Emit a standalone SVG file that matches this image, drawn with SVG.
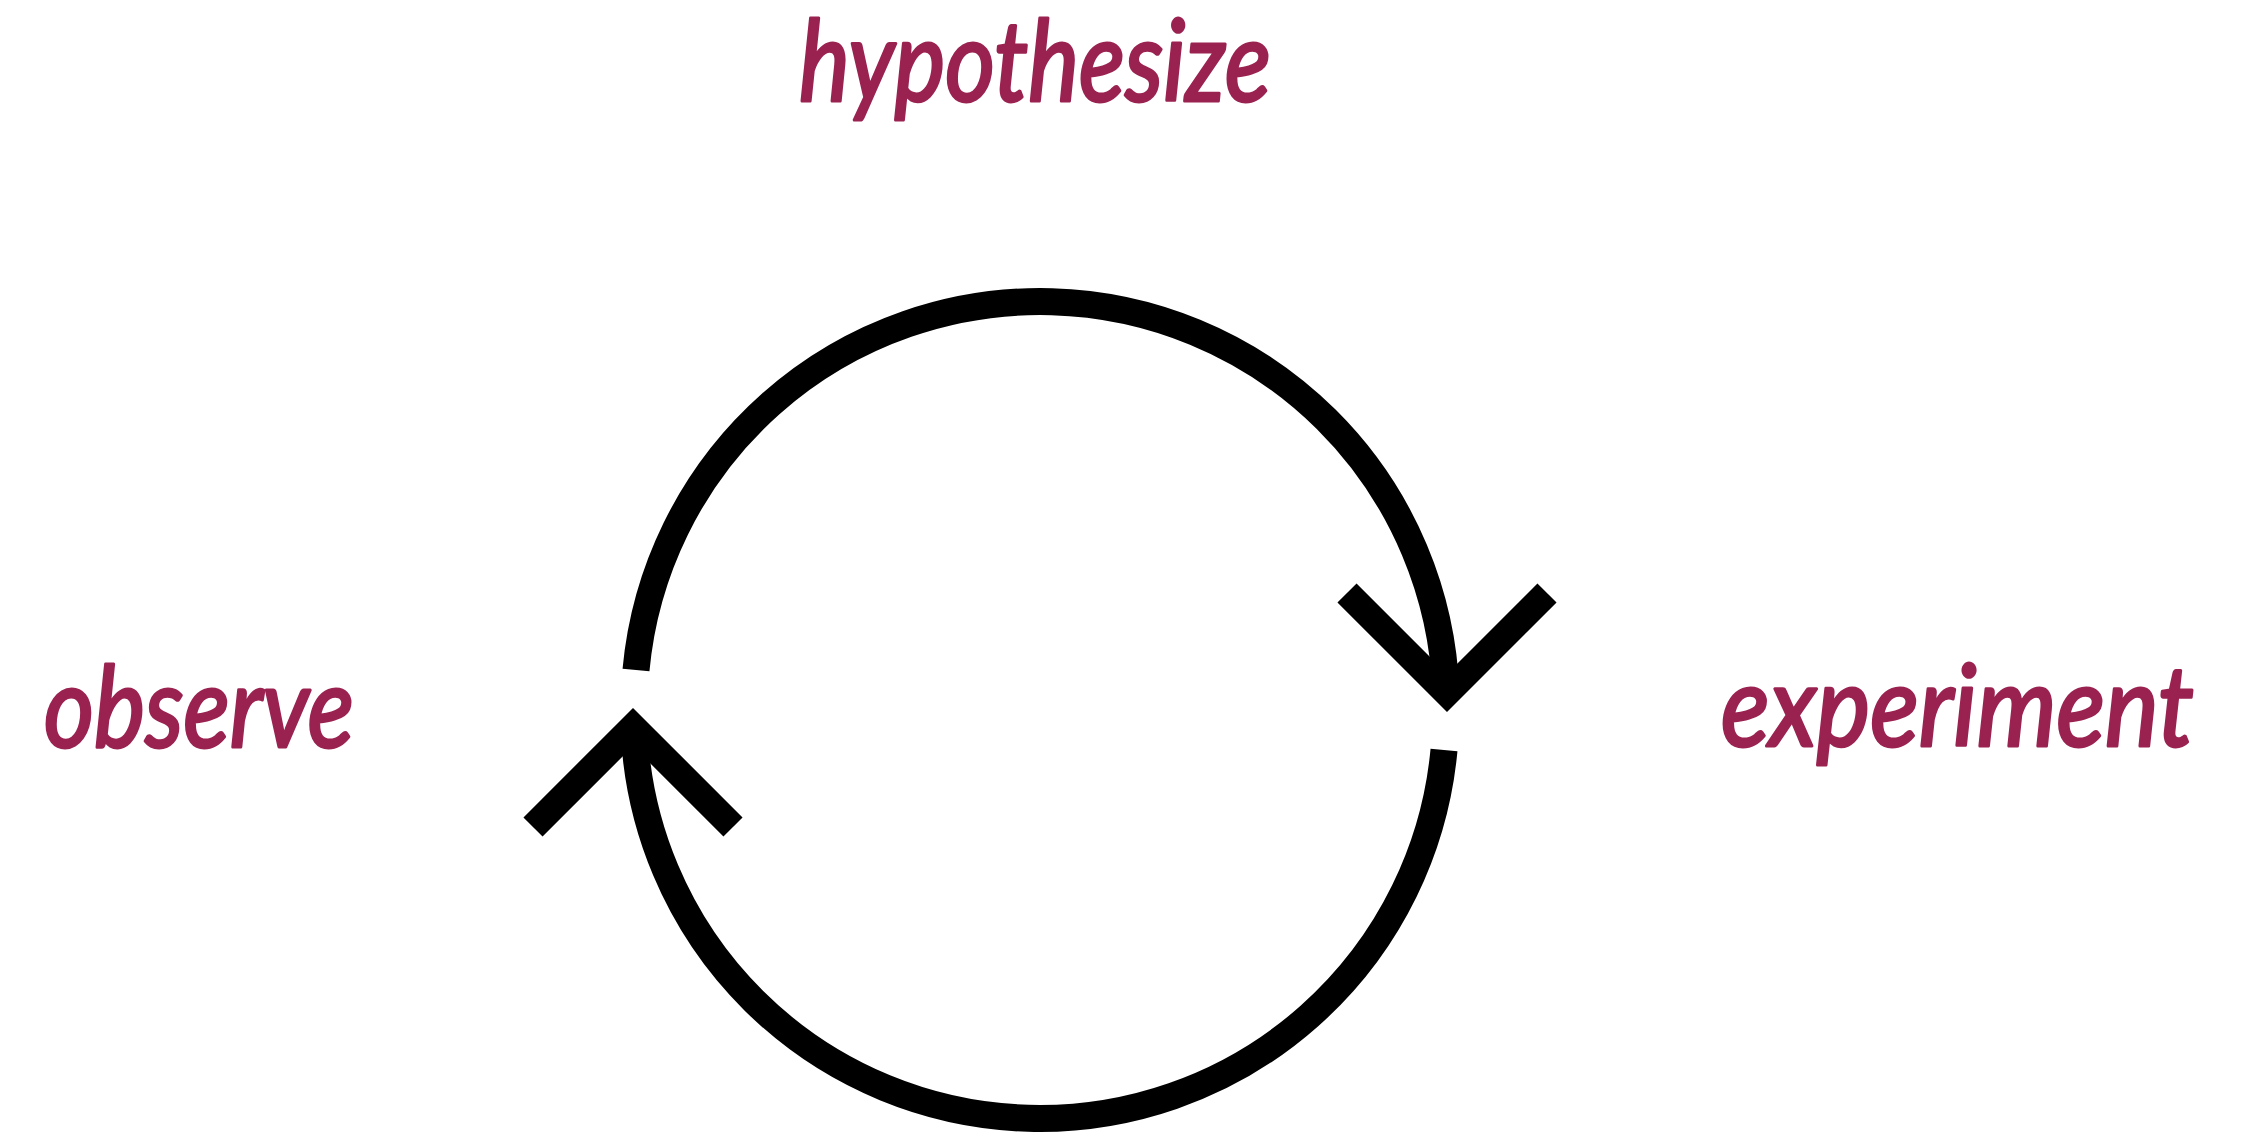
<svg xmlns="http://www.w3.org/2000/svg" width="2243" height="1132" viewBox="0 0 2243 1132">
<style>
.lbl{font-family:Lato,"Open Sans","Liberation Sans",sans-serif;font-style:italic;font-size:112px;fill:#9a2250;stroke:#9a2250;stroke-width:3;stroke-linejoin:round}
.arc{fill:none;stroke:#000;stroke-width:27;stroke-linecap:butt}
.head{fill:none;stroke:#000;stroke-width:27;stroke-linecap:butt;stroke-linejoin:miter;stroke-miterlimit:10}
</style>
<rect width="2243" height="1132" fill="#fff"/>
<g id="connectors">
<path class="arc" d="M636,670 A406,406 0 0 1 1446,693"/>
<polyline class="head" points="1347,593 1447,693 1547,593"/>
<path class="arc" d="M1444,750 A406,406 0 0 1 634,727"/>
<polyline class="head" points="533,827 633,727 733,827"/>
</g>
<g id="hypothesize"><text class="lbl" x="799" y="101" textLength="472" lengthAdjust="spacingAndGlyphs">hypothesize</text></g>
<g id="observe"><text class="lbl" x="44" y="747" textLength="310" lengthAdjust="spacingAndGlyphs">observe</text></g>
<g id="experiment"><text class="lbl" x="1721" y="746" textLength="473" lengthAdjust="spacingAndGlyphs">experiment</text></g>
</svg>
